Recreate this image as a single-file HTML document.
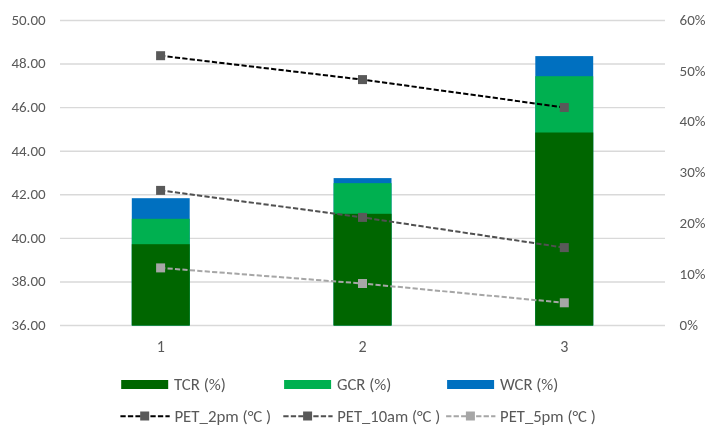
<!DOCTYPE html>
<html><head><meta charset="utf-8"><style>
html,body{margin:0;padding:0;background:#fff;}
svg{display:block;}
.t{font-family:Carlito, 'Liberation Sans', sans-serif;font-size:16px;fill:#595959;}
.a{font-size:15px;}
</style></head><body>
<svg width="721" height="445" viewBox="0 0 721 445">
<rect width="721" height="445" fill="#fff"/>
<line x1="60" y1="20.50" x2="665" y2="20.50" stroke="#D9D9D9" stroke-width="1.4"/>
<line x1="60" y1="64.07" x2="665" y2="64.07" stroke="#D9D9D9" stroke-width="1.4"/>
<line x1="60" y1="107.64" x2="665" y2="107.64" stroke="#D9D9D9" stroke-width="1.4"/>
<line x1="60" y1="151.21" x2="665" y2="151.21" stroke="#D9D9D9" stroke-width="1.4"/>
<line x1="60" y1="194.79" x2="665" y2="194.79" stroke="#D9D9D9" stroke-width="1.4"/>
<line x1="60" y1="238.36" x2="665" y2="238.36" stroke="#D9D9D9" stroke-width="1.4"/>
<line x1="60" y1="281.93" x2="665" y2="281.93" stroke="#D9D9D9" stroke-width="1.4"/>
<line x1="60" y1="325.50" x2="665" y2="325.50" stroke="#D9D9D9" stroke-width="1.4"/>
<text x="45.6" y="24.80" text-anchor="end" class="t a" textLength="34.20" lengthAdjust="spacingAndGlyphs">50.00</text>
<text x="45.6" y="68.37" text-anchor="end" class="t a" textLength="34.20" lengthAdjust="spacingAndGlyphs">48.00</text>
<text x="45.6" y="111.94" text-anchor="end" class="t a" textLength="34.20" lengthAdjust="spacingAndGlyphs">46.00</text>
<text x="45.6" y="155.51" text-anchor="end" class="t a" textLength="34.20" lengthAdjust="spacingAndGlyphs">44.00</text>
<text x="45.6" y="199.09" text-anchor="end" class="t a" textLength="34.20" lengthAdjust="spacingAndGlyphs">42.00</text>
<text x="45.6" y="242.66" text-anchor="end" class="t a" textLength="34.20" lengthAdjust="spacingAndGlyphs">40.00</text>
<text x="45.6" y="286.23" text-anchor="end" class="t a" textLength="34.20" lengthAdjust="spacingAndGlyphs">38.00</text>
<text x="45.6" y="329.80" text-anchor="end" class="t a" textLength="34.20" lengthAdjust="spacingAndGlyphs">36.00</text>
<text x="679.6" y="24.80" class="t a" textLength="25.94" lengthAdjust="spacingAndGlyphs">60%</text>
<text x="679.6" y="75.63" class="t a" textLength="25.94" lengthAdjust="spacingAndGlyphs">50%</text>
<text x="679.6" y="126.47" class="t a" textLength="25.94" lengthAdjust="spacingAndGlyphs">40%</text>
<text x="679.6" y="177.30" class="t a" textLength="25.94" lengthAdjust="spacingAndGlyphs">30%</text>
<text x="679.6" y="228.13" class="t a" textLength="25.94" lengthAdjust="spacingAndGlyphs">20%</text>
<text x="679.6" y="278.97" class="t a" textLength="25.94" lengthAdjust="spacingAndGlyphs">10%</text>
<text x="679.6" y="329.80" class="t a" textLength="18.33" lengthAdjust="spacingAndGlyphs">0%</text>
<rect x="131.8" y="198.2" width="57.9" height="127.30" fill="#0070C0"/>
<rect x="131.8" y="218.8" width="57.9" height="106.70" fill="#00B050"/>
<rect x="131.8" y="244.2" width="57.9" height="81.30" fill="#006600"/>
<rect x="333.6" y="178.1" width="57.9" height="147.40" fill="#0070C0"/>
<rect x="333.6" y="183.15" width="57.9" height="142.35" fill="#00B050"/>
<rect x="333.6" y="213.8" width="57.9" height="111.70" fill="#006600"/>
<rect x="535.3" y="56.1" width="57.9" height="269.40" fill="#0070C0"/>
<rect x="535.3" y="76.2" width="57.9" height="249.30" fill="#00B050"/>
<rect x="535.3" y="132.5" width="57.9" height="193.00" fill="#006600"/>
<text x="160.8" y="352.2" text-anchor="middle" class="t" textLength="8.11" lengthAdjust="spacingAndGlyphs">1</text>
<text x="362.5" y="352.2" text-anchor="middle" class="t" textLength="8.11" lengthAdjust="spacingAndGlyphs">2</text>
<text x="564.2" y="352.2" text-anchor="middle" class="t" textLength="8.11" lengthAdjust="spacingAndGlyphs">3</text>
<polyline points="160.6,55.7 362.5,79.6 564.3,107.5" fill="none" stroke="#000000" stroke-width="2" stroke-dasharray="5.2 2.25" stroke-dashoffset="0.5"/>
<polyline points="160.6,190.4 362.5,217.4 564.3,247.6" fill="none" stroke="#505050" stroke-width="2" stroke-dasharray="5.2 2.25" stroke-dashoffset="0.5"/>
<polyline points="160.6,267.9 362.5,283.5 564.3,302.8" fill="none" stroke="#A6A6A6" stroke-width="2" stroke-dasharray="5.2 2.25" stroke-dashoffset="0.5"/>
<rect x="156.10" y="51.20" width="9" height="9" fill="#595959"/>
<rect x="358.00" y="75.10" width="9" height="9" fill="#595959"/>
<rect x="559.80" y="103.00" width="9" height="9" fill="#595959"/>
<rect x="156.10" y="185.90" width="9" height="9" fill="#595959"/>
<rect x="358.00" y="212.90" width="9" height="9" fill="#595959"/>
<rect x="559.80" y="243.10" width="9" height="9" fill="#595959"/>
<rect x="156.10" y="263.40" width="9" height="9" fill="#A6A6A6"/>
<rect x="358.00" y="279.00" width="9" height="9" fill="#A6A6A6"/>
<rect x="559.80" y="298.30" width="9" height="9" fill="#A6A6A6"/>
<rect x="121.2" y="380" width="47" height="9" fill="#006600"/>
<text x="174.0" y="390.0" class="t" textLength="51.85" lengthAdjust="spacingAndGlyphs">TCR (%)</text>
<rect x="284.1" y="380" width="47" height="9" fill="#00B050"/>
<text x="336.9" y="390.0" class="t" textLength="54.48" lengthAdjust="spacingAndGlyphs">GCR (%)</text>
<rect x="447.1" y="380" width="47" height="9" fill="#0070C0"/>
<text x="499.9" y="390.0" class="t" textLength="58.44" lengthAdjust="spacingAndGlyphs">WCR (%)</text>
<line x1="120.4" y1="416.2" x2="169.7" y2="416.2" stroke="#000000" stroke-width="2" stroke-dasharray="5.3 2.2"/>
<rect x="140.2" y="411.5" width="9" height="9" fill="#595959"/>
<text x="174.4" y="421.5" class="t" textLength="96.83" lengthAdjust="spacingAndGlyphs">PET_2pm (°C )</text>
<line x1="283.3" y1="416.2" x2="332.6" y2="416.2" stroke="#505050" stroke-width="2" stroke-dasharray="5.3 2.2"/>
<rect x="303.1" y="411.5" width="9" height="9" fill="#595959"/>
<text x="337.3" y="421.5" class="t" textLength="102.90" lengthAdjust="spacingAndGlyphs">PET_10am (°C )</text>
<line x1="446.1" y1="416.2" x2="495.4" y2="416.2" stroke="#A6A6A6" stroke-width="2" stroke-dasharray="5.3 2.2"/>
<rect x="465.9" y="411.5" width="9" height="9" fill="#A6A6A6"/>
<text x="500.1" y="421.5" class="t" textLength="95.63" lengthAdjust="spacingAndGlyphs">PET_5pm (°C )</text>
</svg>
</body></html>
